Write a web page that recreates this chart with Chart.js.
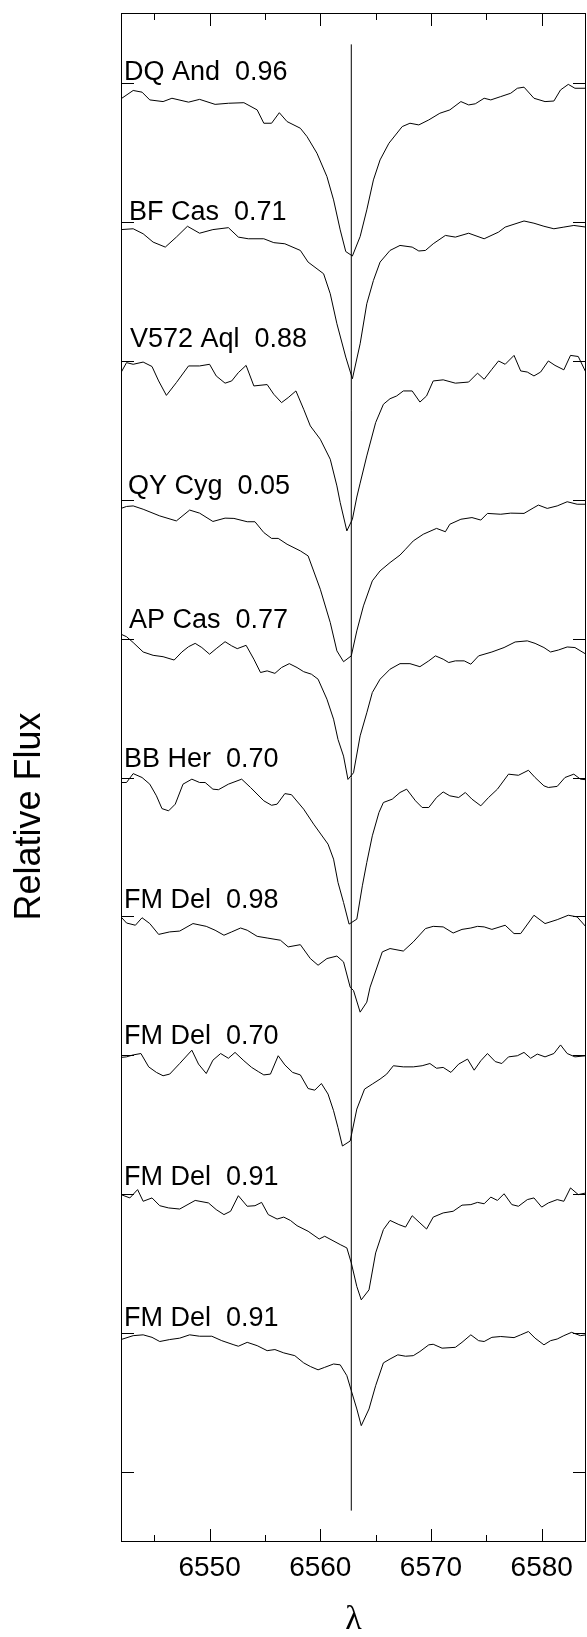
<!DOCTYPE html>
<html>
<head>
<meta charset="utf-8">
<title>H-alpha profiles</title>
<script src="https://cdn.jsdelivr.net/npm/chart.js@4.4.1/dist/chart.umd.min.js"></script>
<style>
  html, body { margin: 0; padding: 0; background: #fff; }
  canvas { display: block; }
</style>
</head>
<body>
<canvas id="spectra" width="587" height="1637"></canvas>
<script>
// --- spectra: [wavelength (A), relative flux], top to bottom ---
const dqAnd = [[6542.0,0.944],[6543.1,0.974],[6543.9,0.968],[6544.6,0.940],[6545.8,0.934],[6546.6,0.946],[6548.1,0.932],[6549.1,0.942],[6550.5,0.924],[6551.7,0.928],[6553.1,0.930],[6554.3,0.904],[6554.9,0.856],[6555.6,0.856],[6556.3,0.894],[6557.0,0.862],[6558.2,0.838],[6558.8,0.808],[6559.7,0.748],[6560.6,0.664],[6561.2,0.580],[6561.8,0.472],[6562.3,0.394],[6562.9,0.378],[6563.6,0.448],[6564.2,0.544],[6564.8,0.652],[6565.4,0.724],[6566.2,0.784],[6567.4,0.844],[6568.1,0.856],[6568.9,0.850],[6569.8,0.868],[6570.8,0.892],[6571.7,0.904],[6572.7,0.934],[6573.4,0.922],[6574.0,0.926],[6574.8,0.946],[6575.4,0.940],[6576.3,0.952],[6577.2,0.964],[6577.8,0.982],[6578.4,0.986],[6579.3,0.946],[6580.3,0.934],[6581.1,0.936],[6581.7,0.976],[6582.4,0.996],[6583.0,0.982],[6584.0,0.982]];
const bfCas = [[6542.0,0.973],[6543.1,0.976],[6544.0,0.958],[6544.9,0.928],[6546.0,0.910],[6547.0,0.946],[6548.0,0.985],[6549.1,0.960],[6550.3,0.973],[6551.7,0.980],[6552.6,0.946],[6553.5,0.940],[6554.9,0.940],[6555.8,0.926],[6556.8,0.922],[6558.2,0.898],[6558.9,0.856],[6560.3,0.814],[6560.9,0.742],[6561.5,0.634],[6562.3,0.514],[6562.9,0.436],[6563.6,0.562],[6564.2,0.706],[6564.8,0.790],[6565.4,0.856],[6566.3,0.898],[6567.2,0.916],[6568.3,0.910],[6568.9,0.896],[6569.5,0.898],[6570.2,0.922],[6571.3,0.952],[6572.2,0.946],[6573.4,0.960],[6574.8,0.940],[6576.1,0.964],[6576.7,0.982],[6578.4,1.004],[6579.3,0.996],[6580.2,0.985],[6581.1,0.976],[6582.0,0.982],[6582.9,0.988],[6584.0,0.982]];
const v572Aql = [[6542.0,0.958],[6542.5,0.994],[6543.1,0.988],[6544.0,0.996],[6544.8,0.980],[6545.4,0.928],[6546.1,0.876],[6547.0,0.922],[6548.1,0.982],[6549.1,0.982],[6550.0,0.988],[6550.6,0.946],[6551.4,0.920],[6552.0,0.928],[6552.6,0.958],[6553.3,0.984],[6554.0,0.910],[6555.2,0.915],[6555.8,0.880],[6556.5,0.850],[6557.1,0.868],[6557.8,0.892],[6558.5,0.826],[6559.1,0.766],[6560.0,0.718],[6560.9,0.646],[6561.5,0.550],[6561.8,0.490],[6562.4,0.388],[6562.9,0.430],[6563.3,0.510],[6563.6,0.560],[6564.2,0.658],[6565.0,0.778],[6565.7,0.844],[6566.3,0.864],[6566.9,0.874],[6567.5,0.892],[6568.3,0.892],[6569.0,0.852],[6569.6,0.874],[6570.2,0.928],[6571.1,0.932],[6572.2,0.920],[6573.4,0.924],[6574.2,0.956],[6574.8,0.934],[6575.5,0.970],[6576.1,1.000],[6576.7,0.988],[6577.5,1.020],[6578.1,0.964],[6578.7,0.960],[6579.3,0.946],[6579.9,0.960],[6580.6,1.000],[6581.2,0.984],[6582.0,0.968],[6582.6,1.020],[6583.3,1.016],[6584.0,0.958]];
const qyCyg = [[6542.0,0.969],[6542.5,0.976],[6543.1,0.978],[6544.0,0.966],[6545.5,0.942],[6547.0,0.924],[6548.2,0.963],[6549.1,0.952],[6550.3,0.922],[6551.4,0.934],[6552.2,0.933],[6553.4,0.921],[6554.1,0.921],[6554.9,0.882],[6555.6,0.861],[6556.2,0.861],[6557.0,0.840],[6558.2,0.816],[6558.9,0.798],[6560.0,0.678],[6560.9,0.558],[6561.5,0.456],[6562.1,0.417],[6562.8,0.438],[6563.3,0.528],[6563.9,0.618],[6564.7,0.708],[6565.4,0.744],[6566.3,0.774],[6567.2,0.801],[6567.7,0.822],[6568.4,0.852],[6569.3,0.876],[6570.5,0.897],[6571.3,0.885],[6571.7,0.912],[6572.7,0.930],[6573.7,0.936],[6574.5,0.927],[6575.1,0.951],[6576.3,0.948],[6577.2,0.952],[6578.4,0.951],[6579.3,0.972],[6579.7,0.981],[6580.5,0.969],[6581.4,0.978],[6582.3,0.993],[6583.2,0.984],[6584.0,0.984]];
const apCas = [[6542.0,1.016],[6542.5,1.007],[6543.1,0.986],[6544.0,0.952],[6544.9,0.940],[6545.8,0.935],[6546.8,0.923],[6547.5,0.952],[6548.1,0.971],[6548.7,0.983],[6549.3,0.968],[6550.0,0.944],[6550.6,0.964],[6551.4,0.989],[6552.0,0.974],[6552.5,0.964],[6553.3,0.976],[6554.0,0.926],[6554.6,0.878],[6555.2,0.884],[6555.9,0.875],[6556.5,0.896],[6557.2,0.910],[6557.9,0.896],[6558.5,0.881],[6559.2,0.872],[6559.8,0.854],[6560.6,0.782],[6561.2,0.710],[6561.6,0.637],[6562.1,0.577],[6562.5,0.493],[6563.0,0.517],[6563.6,0.650],[6564.2,0.733],[6564.7,0.806],[6565.4,0.854],[6566.3,0.890],[6567.2,0.910],[6568.1,0.910],[6569.0,0.899],[6569.8,0.920],[6570.4,0.938],[6571.1,0.926],[6571.6,0.914],[6572.2,0.920],[6573.0,0.920],[6573.6,0.908],[6574.3,0.938],[6575.5,0.952],[6576.6,0.968],[6577.6,0.988],[6578.7,0.992],[6579.4,0.983],[6580.2,0.968],[6580.8,0.952],[6581.5,0.959],[6582.3,0.970],[6583.0,0.968],[6584.0,0.944]];
const bbHer = [[6542.0,0.982],[6542.5,0.982],[6543.1,1.014],[6543.9,1.000],[6544.6,0.976],[6545.2,0.934],[6545.7,0.888],[6546.3,0.880],[6546.9,0.904],[6547.6,0.976],[6548.4,0.994],[6549.1,0.982],[6549.6,0.982],[6550.3,0.958],[6550.8,0.956],[6551.7,0.976],[6552.9,0.994],[6553.7,0.964],[6554.9,0.916],[6555.6,0.900],[6556.1,0.904],[6556.8,0.942],[6557.4,0.938],[6558.5,0.886],[6559.4,0.832],[6560.7,0.760],[6561.2,0.706],[6561.6,0.622],[6562.1,0.550],[6562.6,0.472],[6563.3,0.490],[6563.8,0.610],[6564.2,0.694],[6564.7,0.790],[6565.3,0.874],[6565.7,0.910],[6566.5,0.922],[6567.2,0.946],[6567.8,0.958],[6568.6,0.916],[6569.2,0.892],[6569.8,0.892],[6570.5,0.928],[6571.1,0.948],[6571.7,0.934],[6572.5,0.928],[6573.1,0.946],[6573.7,0.922],[6574.5,0.898],[6575.2,0.928],[6576.0,0.958],[6577.0,1.012],[6577.9,1.008],[6578.8,1.026],[6579.4,1.000],[6580.2,0.970],[6580.6,0.964],[6581.4,0.968],[6582.1,1.000],[6582.9,1.012],[6583.5,0.994],[6584.0,0.992]];
const fmDel098 = [[6542.0,0.998],[6542.5,0.976],[6543.3,0.968],[6543.9,0.995],[6544.6,0.974],[6545.4,0.935],[6546.4,0.944],[6547.3,0.947],[6548.5,0.974],[6549.7,0.964],[6550.5,0.950],[6551.3,0.932],[6552.0,0.944],[6552.8,0.958],[6553.4,0.950],[6554.3,0.928],[6555.2,0.922],[6556.4,0.914],[6557.1,0.890],[6558.2,0.898],[6559.1,0.848],[6559.8,0.824],[6560.6,0.848],[6561.5,0.857],[6562.1,0.836],[6562.7,0.745],[6563.0,0.733],[6563.6,0.655],[6564.2,0.691],[6564.5,0.745],[6565.6,0.872],[6566.3,0.884],[6567.5,0.875],[6568.4,0.908],[6569.5,0.956],[6570.2,0.964],[6571.1,0.962],[6572.0,0.940],[6572.8,0.953],[6573.6,0.958],[6574.2,0.964],[6574.8,0.962],[6575.5,0.953],[6576.7,0.968],[6577.5,0.938],[6578.1,0.938],[6579.3,1.004],[6580.3,0.974],[6581.4,0.988],[6582.4,1.004],[6583.2,0.998],[6584.0,0.962]];
const fmDel070 = [[6542.0,0.992],[6542.5,0.994],[6543.1,1.001],[6543.8,1.006],[6544.5,0.958],[6545.2,0.938],[6545.8,0.926],[6546.4,0.932],[6547.3,0.970],[6548.4,1.018],[6549.0,0.968],[6549.7,0.934],[6550.3,0.982],[6551.0,1.006],[6551.7,0.989],[6552.3,1.010],[6553.1,0.980],[6553.8,0.956],[6554.4,0.941],[6554.9,0.929],[6555.5,0.932],[6556.2,0.998],[6556.8,0.965],[6557.5,0.938],[6558.2,0.929],[6558.9,0.880],[6559.5,0.874],[6560.1,0.898],[6560.7,0.860],[6561.2,0.800],[6561.6,0.739],[6562.0,0.673],[6562.7,0.691],[6563.3,0.806],[6564.0,0.878],[6564.7,0.896],[6565.4,0.914],[6566.0,0.932],[6566.6,0.962],[6567.5,0.958],[6568.4,0.958],[6569.2,0.962],[6569.9,0.970],[6570.5,0.953],[6571.1,0.956],[6571.8,0.938],[6572.5,0.968],[6573.3,0.986],[6573.9,0.946],[6574.5,0.980],[6575.1,1.006],[6575.8,0.977],[6576.4,0.970],[6577.0,0.994],[6577.8,0.998],[6578.4,1.010],[6579.0,0.989],[6579.6,1.004],[6580.3,0.994],[6581.1,1.006],[6581.7,1.037],[6582.3,1.006],[6583.0,0.994],[6584.0,0.998]];
const fmDel091a = [[6542.0,0.998],[6542.8,0.986],[6543.5,1.016],[6544.0,0.974],[6544.8,0.986],[6545.5,0.958],[6546.3,0.950],[6547.3,0.946],[6548.7,0.977],[6549.9,0.968],[6550.6,0.944],[6551.3,0.926],[6551.9,0.938],[6552.6,0.994],[6553.4,0.956],[6554.1,0.958],[6554.7,0.970],[6555.3,0.926],[6556.1,0.910],[6556.7,0.917],[6557.3,0.905],[6557.9,0.886],[6558.9,0.866],[6559.9,0.838],[6560.4,0.848],[6561.8,0.818],[6562.4,0.806],[6562.8,0.752],[6563.3,0.667],[6563.7,0.619],[6564.4,0.655],[6565.0,0.788],[6565.7,0.872],[6566.3,0.905],[6567.1,0.890],[6567.7,0.881],[6568.3,0.922],[6569.0,0.896],[6569.6,0.874],[6570.2,0.917],[6571.1,0.932],[6572.0,0.938],[6572.8,0.960],[6573.6,0.962],[6574.2,0.970],[6574.8,0.965],[6575.4,0.989],[6576.0,0.977],[6576.6,1.001],[6577.3,0.962],[6577.9,0.956],[6578.7,0.980],[6579.3,0.986],[6580.0,0.953],[6580.6,0.968],[6581.4,0.980],[6582.0,0.974],[6582.6,1.022],[6583.3,0.998],[6584.0,1.004]];
const fmDel091b = [[6542.0,0.976],[6543.1,0.990],[6544.0,0.993],[6544.8,0.984],[6545.5,0.969],[6546.4,0.976],[6547.3,0.981],[6548.2,0.993],[6549.1,0.988],[6550.2,0.988],[6551.1,0.972],[6552.2,0.957],[6552.6,0.952],[6553.4,0.966],[6554.3,0.954],[6555.2,0.936],[6555.9,0.940],[6556.7,0.928],[6557.7,0.918],[6558.5,0.892],[6559.1,0.879],[6559.8,0.867],[6560.4,0.876],[6561.2,0.888],[6561.8,0.885],[6562.4,0.846],[6562.8,0.792],[6563.3,0.726],[6563.7,0.666],[6564.4,0.726],[6565.0,0.810],[6565.7,0.892],[6566.3,0.906],[6567.0,0.921],[6567.7,0.916],[6568.4,0.918],[6569.0,0.933],[6569.8,0.957],[6570.2,0.959],[6571.0,0.945],[6572.2,0.948],[6572.8,0.966],[6573.6,0.993],[6574.3,0.972],[6574.8,0.969],[6575.5,0.984],[6576.3,0.987],[6577.5,0.983],[6578.1,0.993],[6578.8,1.005],[6579.4,0.981],[6580.2,0.957],[6580.8,0.972],[6581.4,0.978],[6582.0,0.990],[6582.7,1.002],[6583.5,0.990],[6584.0,0.993]];

const spectra = [dqAnd, bfCas, v572Aql, qyCyg, apCas, bbHer, fmDel098, fmDel070, fmDel091a, fmDel091b];
const starLabels = ['DQ And  0.96', 'BF Cas  0.71', 'V572 Aql  0.88', 'QY Cyg  0.05', 'AP Cas  0.77',
                    'BB Her  0.70', 'FM Del  0.98', 'FM Del  0.70', 'FM Del  0.91', 'FM Del  0.91'];

// --- axis setup ---
const lambdaRange = [6542, 6584];
const fluxRange = [-0.253, 5.253];
const xTickStep = 5;      // minor ticks, labelled every 10
const yTickStep = 0.5;    // one tick per spectrum
const offsetStep = 0.5;   // vertical shift between spectra
const topOffset = 4.0;    // top spectrum continuum (1.0) sits at 5.0
const restLambda = 6562.8;
const restLineSpan = [-0.14, 5.14];

// label nudges in px: [right of frame, above continuum tick]
const labelNudge = [[3,3],[8,2],[9,14],[7,6],[8,11],[3,11],[3,8],[3,11],[3,9],[3,7]];

const FONT = '"Liberation Sans", Arial, Helvetica, sans-serif';

// --- datasets ---
const offsets = spectra.map((s, i) => topOffset - i * offsetStep);
const datasets = spectra.map((spec, i) => ({
    label: starLabels[i],
    data: spec.map(p => ({ x: p[0], y: p[1] + offsets[i] })),
    borderColor: '#000', borderWidth: 1, pointRadius: 0, tension: 0, fill: false
}));
datasets.push({
    label: 'rest',
    data: [{ x: restLambda, y: restLineSpan[0] }, { x: restLambda, y: restLineSpan[1] }],
    borderColor: '#000', borderWidth: 1, pointRadius: 0, fill: false
});

// --- frame, inward ticks, star labels, y title ---
const framePlugin = {
    id: 'frame',
    afterDatasetsDraw(chart) {
        const { ctx, chartArea: a, scales: { x, y } } = chart;
        ctx.save();
        ctx.strokeStyle = '#000';
        ctx.lineWidth = 1;
        ctx.strokeRect(a.left + 0.5, a.top + 0.5, a.right - a.left - 1, a.bottom - a.top - 1);

        ctx.beginPath();
        x.ticks.forEach(t => {
            const px = Math.round(x.getPixelForValue(t.value)) + 0.5;
            const len = t.value % 10 === 0 ? 13 : 7;
            ctx.moveTo(px, a.top); ctx.lineTo(px, a.top + len);
            ctx.moveTo(px, a.bottom); ctx.lineTo(px, a.bottom - len);
        });
        y.ticks.forEach(t => {
            const py = Math.round(y.getPixelForValue(t.value)) + 0.5;
            ctx.moveTo(a.left, py); ctx.lineTo(a.left + 13, py);
            ctx.moveTo(a.right, py); ctx.lineTo(a.right - 13, py);
        });
        ctx.stroke();

        ctx.fillStyle = '#000';
        ctx.font = '27px ' + FONT;
        ctx.textAlign = 'left';
        ctx.textBaseline = 'alphabetic';
        starLabels.forEach((txt, i) => {
            const base = y.getPixelForValue(1 + offsets[i]);
            ctx.fillText(txt, a.left + labelNudge[i][0], base - labelNudge[i][1]);
        });

        ctx.font = '36px ' + FONT;
        ctx.textAlign = 'center';
        ctx.translate(40, (a.top + a.bottom) / 2 + 39);
        ctx.rotate(-Math.PI / 2);
        ctx.fillText('Relative Flux', 0, 0);
        ctx.restore();
    }
};

new Chart(document.getElementById('spectra'), {
    type: 'line',
    data: { datasets },
    options: {
        responsive: false,
        animation: false,
        layout: { padding: { top: 13, right: 1, left: 0, bottom: 0 } },
        plugins: { legend: { display: false }, tooltip: { enabled: false } },
        scales: {
            x: {
                type: 'linear',
                min: lambdaRange[0], max: lambdaRange[1],
                grid: { display: false, drawTicks: false },
                border: { display: false },
                ticks: {
                    stepSize: xTickStep, includeBounds: false, autoSkip: false, maxRotation: 0,
                    padding: 9, color: '#000', font: { family: FONT, size: 28 },
                    callback: v => (v % 10 === 0 ? String(v) : '')
                },
                title: {
                    display: true, text: 'λ', color: '#000',
                    font: { family: '"Liberation Serif", "DejaVu Serif", serif', size: 34, lineHeight: 1 },
                    padding: { top: 0, bottom: 0 }
                },
                afterFit: s => { s.height = 95; }
            },
            y: {
                type: 'linear',
                min: fluxRange[0], max: fluxRange[1],
                grid: { display: false, drawTicks: false },
                border: { display: false },
                ticks: { display: false, stepSize: yTickStep, includeBounds: false },
                afterFit: s => { s.width = 121; }
            }
        }
    },
    plugins: [framePlugin]
});
</script>
</body>
</html>
